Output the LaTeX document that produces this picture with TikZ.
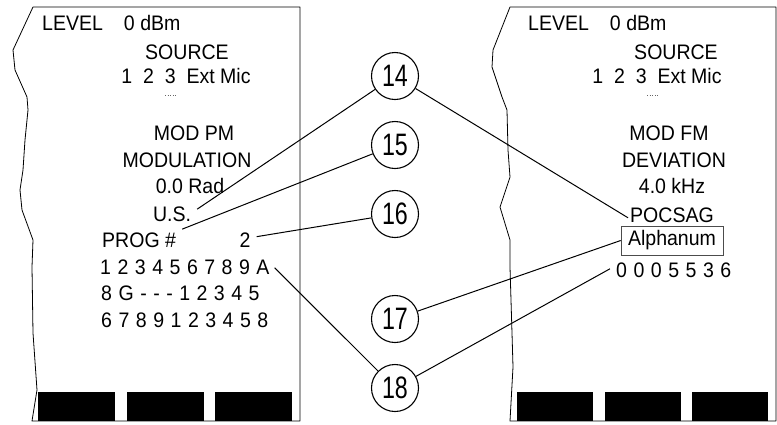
\documentclass[tikz,border=0pt]{standalone}
\usepackage{fontspec}
\setmainfont{Liberation Sans}[FakeStretch=0.93]
\newfontfamily\calloutfont{Liberation Sans}[FakeStretch=0.75]
\usetikzlibrary{positioning}
\tikzset{txt/.style={anchor=base, inner sep=0pt, font=\fontsize{21}{25}\selectfont},
	chr/.style={txt, base right=6.1pt of #1},
	callout/.style={circle, draw, line width=1.1pt, minimum size=47pt, inner sep=0pt, font=\calloutfont\fontsize{31}{31}\selectfont},
	softkey/.style={fill=black},
	panel/.style={line width=0.8pt, line join=round},
	cursor/.style={dotted, line width=0.6pt, black!60},
	leader/.style={line width=1pt}}

\begin{document}
\begin{tikzpicture}[x=1pt, y=-1pt]
	\useasboundingbox (0,0) rectangle (777,424);
	% left screen
	\draw[panel] (300,7) -- (33,7) -- (13,50) -- (15,70) -- (27,97) -- (28,110) -- (25,140) -- (23,170) -- (20,190) -- (22,210) -- (33,240) -- (32,267) -- (33,333) -- (37,390) -- (32,421) -- (300,421) -- cycle;
	\foreach \x in {38,127,215}
		\fill[softkey] (\x,392) rectangle +(77,29);
	\node[txt, anchor=base west] (levelL) at (42,30) {LEVEL\quad0 dBm};
	\node[txt] (sourceL) at (187,59) {SOURCE};
	\node[txt] (inputL) at (186,83) {1\ \ 2\ \ 3\ \ Ext Mic};
	\draw[cursor] (165,95) -- (177,95);
	\node[txt] (modL) at (194,140) {MOD PM};
	\node[txt] (paramL) at (187,167) {MODULATION};
	\node[txt] (valueL) at (190,193) {0.0 Rad};
	\node[txt] (us) at (172,221) {U.S.};
	\node[txt, anchor=base west] (prog) at (102,247) {PROG \#};
	\node[txt] (prognum) at (245,247) {2};
	\node[txt, anchor=base west] (r1-1) at (100,274) {1};
	\foreach \ch [count=\i from 2, remember=\i as \j (initially 1)] in {2,3,4,5,6,7,8,9,A}
		\node[chr=r1-\j] (r1-\i) {\ch};
	\node[txt, anchor=base west] (r2-1) at (101,300) {8};
	\foreach \ch [count=\i from 2, remember=\i as \j (initially 1)] in {G,-,-,-,1,2,3,4,5}
		\node[chr=r2-\j] (r2-\i) {\ch};
	\node[txt, anchor=base west] (r3-1) at (101,327) {6};
	\foreach \ch [count=\i from 2, remember=\i as \j (initially 1)] in {7,8,9,1,2,3,4,5,8}
		\node[chr=r3-\j] (r3-\i) {\ch};
	% right screen
	\draw[panel] (776,7) -- (510,7) -- (493,50) -- (492,67) -- (502,97) -- (507,110) -- (508,150) -- (510,177) -- (500,207) -- (510,240) -- (510,267) -- (512,333) -- (513,367) -- (510,421) -- (776,421) -- cycle;
	\foreach \x in {517,605,692}
		\fill[softkey] (\x,392) rectangle +(76,29);
	\node[txt, anchor=base west] (levelR) at (528,30) {LEVEL\quad0 dBm};
	\node[txt] (sourceR) at (676,59) {SOURCE};
	\node[txt] (inputR) at (657,83) {1\ \ 2\ \ 3\ \ Ext Mic};
	\draw[cursor] (647,95) -- (658,95);
	\node[txt] (modR) at (669,140) {MOD FM};
	\node[txt] (paramR) at (674,167) {DEVIATION};
	\node[txt] (valueR) at (672,193) {4.0 kHz};
	\node[txt] (pocsag) at (672,222) {POCSAG};
	\node[txt, anchor=center, draw=black!70, line width=0.6pt, minimum width=102pt, minimum height=29pt] (alpha) at (672,240.5) {Alphanum};
	\node[txt, anchor=base west] (r4-1) at (616,277) {0};
	\foreach \ch [count=\i from 2, remember=\i as \j (initially 1)] in {0,0,5,5,3,6}
		\node[chr=r4-\j] (r4-\i) {\ch};
	% callouts
	\node[callout] (c14) at (395,76) {14};
	\node[callout] (c15) at (395,145) {15};
	\node[callout] (c16) at (395,214) {16};
	\node[callout] (c17) at (395,319) {17};
	\node[callout] (c18) at (395,388) {18};
	\draw[leader]
		(c14) -- ([shift={(6,3)}]us.north east)
		(c14) -- ([shift={(-2,3)}]pocsag.west)
		(c15) -- ([shift={(6,-3)}]prog.north east)
		(c16) -- ([shift={(6,-3)}]prognum.east)
		(c17) -- (alpha.west)
		(c18) -- ([shift={(5,1)}]r1-10.east)
		(c18) -- ([shift={(-6,-1)}]r4-1.west);
\end{tikzpicture}
\end{document}
